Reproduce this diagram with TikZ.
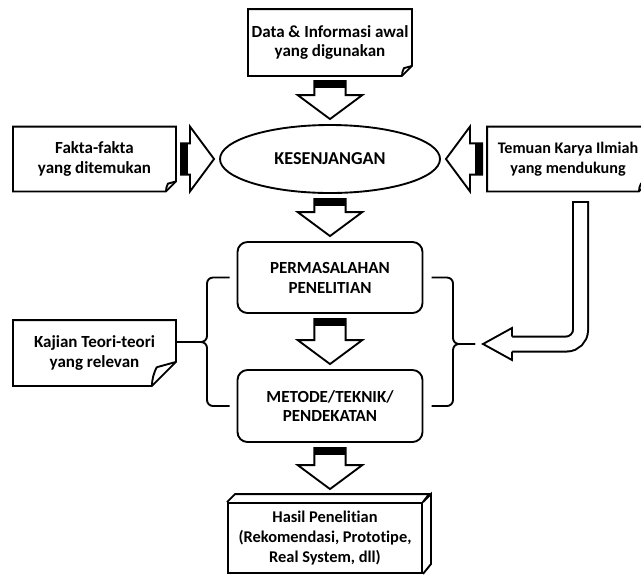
\documentclass[tikz,border=0pt]{standalone}
\usepackage{fontspec}
\setmainfont{Carlito}[Ligatures=NoCommon]
\usepackage{tikz}
\usetikzlibrary{calc}
\usetikzlibrary{shapes.geometric}
\tikzset{note/.style={inner sep=0pt, align=center, font=\bfseries\fontsize{14.5}{17}\selectfont}}
\tikzset{box/.style={draw, rounded corners=0.3cm, inner sep=0pt, align=center,
    minimum width=5.55cm, font=\bfseries\fontsize{14.5}{17}\selectfont}}
\tikzset{brace/.style={rounded corners=0.18cm}}
\newcommand{\blockarrow}[2]{%
    \coordinate (ba-s) at ($(#1)!0.15cm!(#2)$);
    \coordinate (ba-t) at ($(#2)!0.15cm!(#1)$);
    \coordinate (ba-b) at ($(ba-t)!0.72cm!(ba-s)$);
    \coordinate (ba-k) at ($(ba-s)!0.22cm!(ba-t)$);
    \draw[fill=white, line join=miter]
        ($(ba-s)!0.47cm!90:(ba-t)$) -- ($(ba-b)!0.47cm!90:(ba-t)$) -- ($(ba-b)!0.97cm!90:(ba-t)$) -- (ba-t)
        -- ($(ba-b)!0.97cm!-90:(ba-t)$) -- ($(ba-b)!0.47cm!-90:(ba-t)$) -- ($(ba-s)!0.47cm!-90:(ba-t)$) -- cycle;
    \fill ($(ba-s)!0.47cm!90:(ba-t)$) -- ($(ba-k)!0.47cm!90:(ba-t)$)
        -- ($(ba-k)!0.47cm!-90:(ba-t)$) -- ($(ba-s)!0.47cm!-90:(ba-t)$) -- cycle;}

\begin{document}
\begin{tikzpicture}[x=0.03cm, y=-0.03cm, line width=1.6pt]

    \path[use as bounding box, clip] (0,0) rectangle (641,576);

    \node[note, minimum width=4.86cm, minimum height=1.95cm] (D) at (330,42.5) {Data \& Informasi awal\\yang digunakan};
    \node[note, minimum width=4.83cm, minimum height=1.89cm] (F) at (94.5,159) {Fakta-fakta\\yang ditemukan};
    \node[note, minimum width=4.8cm, minimum height=1.89cm, font=\bfseries\fontsize{13.8}{17}\selectfont]
        (T) at (568,159) {Temuan Karya Ilmiah\\yang mendukung};
    \node[note, minimum width=4.83cm, minimum height=1.92cm] (J) at (94.5,353) {Kajian Teori-teori\\yang relevan};
    \node[draw, ellipse, inner sep=0pt, minimum width=6.6cm, minimum height=2.04cm,
        font=\bfseries\fontsize{15.5}{17}\selectfont] (K) at (330,159) {KESENJANGAN};
    \node[box, minimum height=2.13cm] (P) at (330,277.5) {PERMASALAHAN\\PENELITIAN};
    \node[box, minimum height=2.16cm] (M) at (330,406) {METODE/TEKNIK/\\PENDEKATAN};
    \node[note, draw, minimum width=5.82cm, minimum height=2.1cm, font=\bfseries\fontsize{14}{17}\selectfont]
        (H) at (325,538) {Hasil Penelitian\\(Rekomendasi, Prototipe,\\Real System, dll)};

    % notes with folded corner
    \foreach \n/\f in {D/0.3cm, F/0.3cm, T/0.3cm, J/0.72cm} {
        \draw (\n.north west) -- (\n.north east) -- ([yshift=\f]\n.south east)
            -- ([xshift=-\f]\n.south east) -- (\n.south west) -- cycle;
        \draw[line join=bevel] ([xshift=-\f]\n.south east) to[bend left=12] ($(\n.south east)+(-0.8*\f,0.78*\f)$)
            -- ([yshift=\f]\n.south east);
    }

    % 3d edges of the result box
    \draw (H.north west) -- ++(8,-8) -- ++(194,0) -- (H.north east);
    \draw (H.north east) -- ++(8,-8) -- ++(0,70) -- (H.south east);

    % block arrows
    \blockarrow{D.south}{K.north}
    \blockarrow{F.east}{K.west}
    \blockarrow{T.west}{K.east}
    \blockarrow{K.south}{P.north}
    \blockarrow{P.south}{M.north}
    \path (M.south |- H.north) ++(0,-8) coordinate (htop);
    \blockarrow{M.south}{htop}

    % braces
    \coordinate (lbtip) at (195,342);
    \coordinate (rbtip) at (475,344);
    \draw[brace] ([xshift=-6pt]P.west) -| (207,342) -- (lbtip);
    \draw[brace] ([xshift=-6pt]M.west) -| (207,342) -- (lbtip);
    \draw[brace] ([xshift=7pt]P.east) -| (453,344) -- (rbtip);
    \draw[brace] ([xshift=7pt]M.east) -| (453,344) -- (rbtip);
    \draw (J.east |- lbtip) -- (lbtip);

    % bent arrow from the right note
    \coordinate (bendtop) at (580.5,201);
    \coordinate (headtip) at ($(rbtip)+(8,0)$);
    \coordinate (headbase) at ($(headtip)+(29,0)$);
    \draw[line width=0.51cm, rounded corners=0.42cm] (bendtop) |- (headbase);
    \draw[white, line width=0.39cm, rounded corners=0.42cm] ($(bendtop)+(0,2)$) |- (headbase);
    \filldraw[fill=white, line join=miter] ($(headbase)+(0,-7.5)$) -- ($(headbase)+(0,-16)$) -- (headtip)
        -- ($(headbase)+(0,16)$) -- ($(headbase)+(0,7.5)$);

\end{tikzpicture}
\end{document}
